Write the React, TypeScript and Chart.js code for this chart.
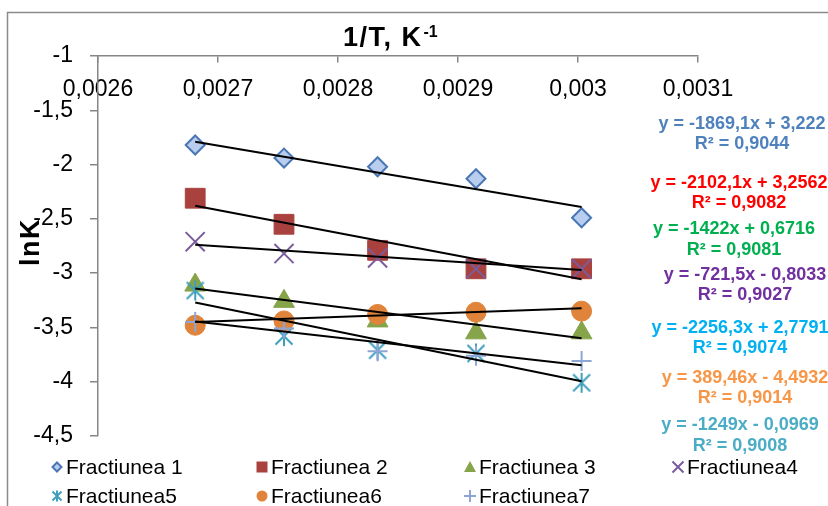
import React, { useEffect, useRef } from "react";
import { Chart, registerables } from "chart.js";

Chart.register(...registerables);

// ---------- data ----------
const invT = [0.002681, 0.002755, 0.002833, 0.002915, 0.003003];
const seriesNames = [
  "Fractiunea 1",
  "Fractiunea 2",
  "Fractiunea 3",
  "Fractiunea4",
  "Fractiunea5",
  "Fractiunea6",
  "Fractiunea7",
];
const lnK1 = [-1.82, -1.94, -2.02, -2.13, -2.49];
const lnK2 = [-2.31, -2.55, -2.79, -2.96, -2.96];
const lnK3 = [-3.11, -3.26, -3.44, -3.55, -3.55];
const lnK4 = [-2.71, -2.82, -2.86, -2.96, -2.96];
const lnK5 = [-3.16, -3.58, -3.71, -3.74, -4.01];
const lnK6 = [-3.48, -3.44, -3.38, -3.36, -3.35];
const lnK7 = [-3.45, -3.51, -3.72, -3.76, -3.81];
const seriesValues = [lnK1, lnK2, lnK3, lnK4, lnK5, lnK6, lnK7];

const trendSlopes = [-1869.1, -2102.1, -1422, -721.5, -2256.3, 389.46, -1249];
const trendIntercepts = [3.222, 3.2562, 0.6716, -0.8033, 2.7791, -4.4932, -0.0969];
const equationLabels = [
  "y = -1869,1x + 3,222",
  "y = -2102,1x + 3,2562",
  "y = -1422x + 0,6716",
  "y = -721,5x - 0,8033",
  "y = -2256,3x + 2,7791",
  "y = 389,46x - 4,4932",
  "y = -1249x - 0,0969",
];
const r2Labels = [
  "R² = 0,9044",
  "R² = 0,9082",
  "R² = 0,9081",
  "R² = 0,9027",
  "R² = 0,9074",
  "R² = 0,9014",
  "R² = 0,9008",
];

const xAxisMin = 0.0026;
const xAxisMax = 0.0031;
const xAxisStep = 0.0001;
const yAxisMin = -4.5;
const yAxisMax = -1;
const yAxisStep = 0.5;
const xAxisTitle = "1/T, K";
const xAxisTitleSup = "-1";
const yAxisTitle = "lnK";

// ---------- styles ----------
const FONT = "'Liberation Sans', Arial, sans-serif";
const AXIS_COLOR = "#868686";

const markerKinds = ["diamond", "square", "triangle", "x", "star", "circle", "plus"];
const markerFill = ["#b9cdee", "#a9423f", "#86a44a", "transparent", "transparent", "#e0843b", "transparent"];
const markerStroke = ["#4a77b4", "#a9423f", "#86a44a", "#7a5c9c", "#3f9fbd", "#e0843b", "#8ea6d6"];
const eqColors = ["#4f81bd", "#ff0000", "#00b050", "#7030a0", "#00b0f0", "#f79646", "#4bacc6"];
const eqPos = [
  [742, 124, 144],
  [739, 183, 203],
  [734, 229, 250],
  [745, 275, 295],
  [740, 328, 348],
  [745, 378, 398],
  [740, 425, 446],
];
const legendCols = [57, 262, 470, 678];
const legendRows = [467, 496];

function fmtComma(v: number): string {
  return String(parseFloat(Number(v).toFixed(6))).replace(".", ",");
}

function drawMarker(ctx: CanvasRenderingContext2D, i: number, x: number, y: number) {
  const kind = markerKinds[i];
  ctx.save();
  ctx.lineWidth = 2;
  ctx.fillStyle = markerFill[i];
  ctx.strokeStyle = markerStroke[i];
  ctx.beginPath();
  if (kind === "diamond") {
    const s = 4.5;
    ctx.moveTo(x, y - s);
    ctx.lineTo(x + s, y);
    ctx.lineTo(x, y + s);
    ctx.lineTo(x - s, y);
    ctx.closePath();
    ctx.fill();
    ctx.stroke();
  } else if (kind === "square") {
    ctx.rect(x - 5.5, y - 5.5, 11, 11);
    ctx.fill();
  } else if (kind === "triangle") {
    ctx.moveTo(x, y - 6);
    ctx.lineTo(x + 6, y + 5);
    ctx.lineTo(x - 6, y + 5);
    ctx.closePath();
    ctx.fill();
  } else if (kind === "x") {
    const s = 5.5;
    ctx.moveTo(x - s, y - s);
    ctx.lineTo(x + s, y + s);
    ctx.moveTo(x + s, y - s);
    ctx.lineTo(x - s, y + s);
    ctx.stroke();
  } else if (kind === "star") {
    const s = 4.5;
    ctx.moveTo(x - s, y - s);
    ctx.lineTo(x + s, y + s);
    ctx.moveTo(x + s, y - s);
    ctx.lineTo(x - s, y + s);
    ctx.moveTo(x, y - 5.5);
    ctx.lineTo(x, y + 5.5);
    ctx.stroke();
  } else if (kind === "circle") {
    ctx.arc(x, y, 5.5, 0, Math.PI * 2);
    ctx.fill();
  } else if (kind === "plus") {
    ctx.moveTo(x - 6, y);
    ctx.lineTo(x + 6, y);
    ctx.moveTo(x, y - 6);
    ctx.lineTo(x, y + 6);
    ctx.stroke();
  }
  ctx.restore();
}

function makeStarImage(color: string): HTMLCanvasElement {
  const c = document.createElement("canvas");
  c.width = 22;
  c.height = 22;
  const g = c.getContext("2d")!;
  g.strokeStyle = color;
  g.lineWidth = 2;
  g.beginPath();
  g.moveTo(11 - 8.5, 11 - 8.5);
  g.lineTo(11 + 8.5, 11 + 8.5);
  g.moveTo(11 + 8.5, 11 - 8.5);
  g.lineTo(11 - 8.5, 11 + 8.5);
  g.moveTo(11, 1);
  g.lineTo(11, 21);
  g.stroke();
  return c;
}

const decorPlugin = {
  id: "decor",
  beforeDraw(chart: any) {
    const ctx: CanvasRenderingContext2D = chart.ctx;
    ctx.save();
    ctx.fillStyle = "#ffffff";
    ctx.fillRect(0, 0, chart.width, chart.height);
    ctx.strokeStyle = "#8a8a8a";
    ctx.lineWidth = 1.5;
    ctx.beginPath();
    ctx.moveTo(7.5, chart.height);
    ctx.lineTo(7.5, 12.5);
    ctx.lineTo(chart.width, 12.5);
    ctx.stroke();
    ctx.restore();
  },
  afterDraw(chart: any) {
    const ctx: CanvasRenderingContext2D = chart.ctx;
    ctx.save();
    // x title
    ctx.fillStyle = "#000";
    ctx.textBaseline = "middle";
    ctx.textAlign = "left";
    (ctx as any).letterSpacing = "1.5px";
    ctx.font = `bold 27px ${FONT}`;
    const tx = 343;
    ctx.fillText(xAxisTitle, tx, 39);
    const w = ctx.measureText(xAxisTitle).width;
    ctx.font = `bold 16px ${FONT}`;
    (ctx as any).letterSpacing = "0px";
    ctx.fillText(xAxisTitleSup, tx + w + 1, 33);
    // y title
    ctx.save();
    ctx.translate(32, 242);
    ctx.rotate(-Math.PI / 2);
    ctx.textAlign = "center";
    (ctx as any).letterSpacing = "1.5px";
    ctx.font = `bold 27px ${FONT}`;
    ctx.fillText(yAxisTitle, 0, 0);
    ctx.restore();
    (ctx as any).letterSpacing = "0px";
    // trendline equations
    ctx.textAlign = "center";
    ctx.font = `bold 18px ${FONT}`;
    for (let i = 0; i < equationLabels.length; i++) {
      ctx.fillStyle = eqColors[i];
      ctx.fillText(equationLabels[i], eqPos[i][0], eqPos[i][1]);
      ctx.fillText(r2Labels[i], eqPos[i][0], eqPos[i][2]);
    }
    // legend
    ctx.textAlign = "left";
    ctx.font = `21px ${FONT}`;
    for (let i = 0; i < seriesNames.length; i++) {
      const col = i % 4;
      const row = Math.floor(i / 4);
      const mx = legendCols[col];
      const my = legendRows[row];
      drawMarker(ctx, i, mx, my);
      ctx.fillStyle = "#000";
      ctx.fillText(seriesNames[i], mx + 9, my + 1);
    }
    ctx.restore();
  },
};

export default function App() {
  const canvasRef = useRef<HTMLCanvasElement | null>(null);

  useEffect(() => {
    if (!canvasRef.current) return;
    const starImg = makeStarImage(markerStroke[4]);
    const pointCfg: any[] = [
      { pointStyle: "rectRot", pointRadius: 9.5, borderWidth: 2 },
      { pointStyle: "rect", pointRadius: 14, borderWidth: 1 },
      { pointStyle: "triangle", pointRadius: 12, borderWidth: 1 },
      { pointStyle: "crossRot", pointRadius: 13.5, borderWidth: 2 },
      { pointStyle: starImg, pointRadius: 11, borderWidth: 2 },
      { pointStyle: "circle", pointRadius: 10, borderWidth: 1 },
      { pointStyle: "cross", pointRadius: 10, borderWidth: 2 },
    ];

    const pointDatasets = seriesValues.map((vals, i) => ({
      label: seriesNames[i],
      data: invT.map((x, k) => ({ x, y: vals[k] })),
      showLine: false,
      backgroundColor: markerFill[i],
      borderColor: markerStroke[i],
      pointBackgroundColor: markerFill[i],
      pointBorderColor: markerStroke[i],
      pointStyle: pointCfg[i].pointStyle,
      pointRadius: pointCfg[i].pointRadius,
      pointBorderWidth: pointCfg[i].borderWidth,
      order: 20 - i,
    }));

    const xFirst = invT[0];
    const xLast = invT[invT.length - 1];
    const trendDatasets = trendSlopes.map((m, i) => ({
      label: "trend " + seriesNames[i],
      data: [
        { x: xFirst, y: m * xFirst + trendIntercepts[i] },
        { x: xLast, y: m * xLast + trendIntercepts[i] },
      ],
      showLine: true,
      borderColor: "#000000",
      borderWidth: 2,
      pointRadius: 0,
      fill: false,
      order: 0,
    }));

    const chart = new Chart(canvasRef.current, {
      type: "scatter",
      data: { datasets: [...trendDatasets, ...pointDatasets] as any },
      options: {
        animation: false,
        responsive: false,
        maintainAspectRatio: false,
        devicePixelRatio: 1,
        layout: { padding: { left: 33, right: 130, top: 56, bottom: 70 } },
        plugins: {
          legend: { display: false },
          tooltip: { enabled: false },
          title: { display: false },
        },
        scales: {
          x: {
            type: "linear",
            min: xAxisMin,
            max: xAxisMax,
            position: { y: yAxisMax } as any,
            ticks: {
              stepSize: xAxisStep,
              autoSkip: false,
              maxRotation: 0,
              padding: 14,
              color: "#000",
              font: { family: FONT, size: 23 },
              callback: (v: any) => fmtComma(v),
            },
            grid: {
              drawOnChartArea: false,
              drawTicks: true,
              tickLength: 6,
              color: AXIS_COLOR,
              lineWidth: 1.5,
            },
            border: { display: true, color: AXIS_COLOR, width: 1.5 },
          },
          y: {
            type: "linear",
            position: "left",
            min: yAxisMin,
            max: yAxisMax,
            ticks: {
              stepSize: yAxisStep,
              padding: 17,
              color: "#000",
              font: { family: FONT, size: 23 },
              callback: (v: any) => fmtComma(v),
            },
            grid: {
              drawOnChartArea: false,
              drawTicks: true,
              tickLength: 8,
              color: AXIS_COLOR,
              lineWidth: 1.5,
            },
            border: { display: true, color: AXIS_COLOR, width: 1.5 },
            afterFit: (s: any) => {
              s.width = 65;
            },
          } as any,
        },
      } as any,
      plugins: [decorPlugin],
    });
    return () => chart.destroy();
  }, []);

  return (
    <div style={{ position: "fixed", left: 0, top: 0, width: 828, height: 506, background: "#fff" }}>
      <canvas ref={canvasRef} width={828} height={506} style={{ display: "block" }} />
    </div>
  );
}
